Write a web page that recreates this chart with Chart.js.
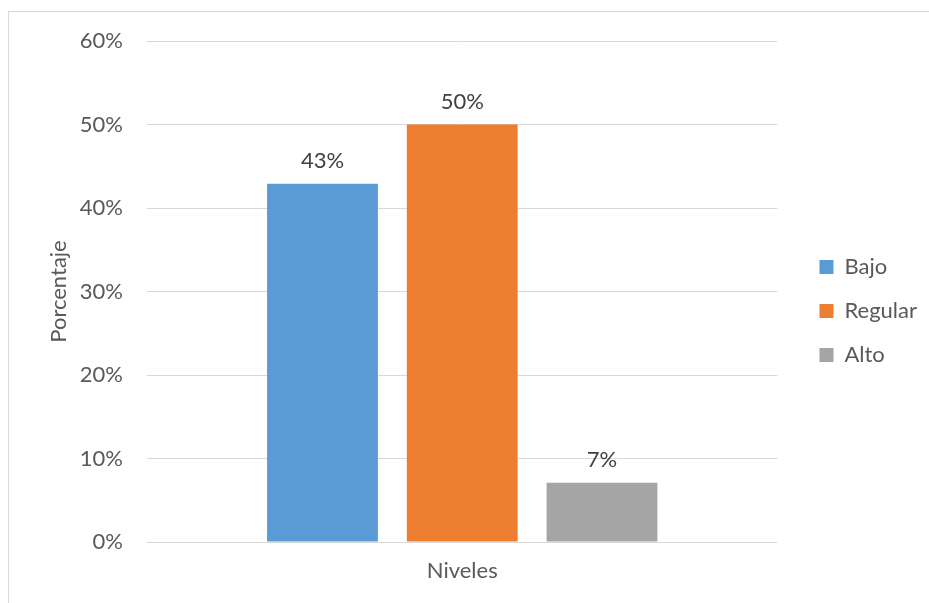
<!DOCTYPE html>
<html lang="es">
<head>
  <meta charset="UTF-8">
  <title>Niveles</title>
  <style>
    body {
      margin: 0;
      background: #fff;
      overflow: hidden;
    }
    #wrap {
      position: relative;
      width: 929px;
      height: 603px;
    }
    .frame {
      position: absolute;
      left: 8px;
      top: 11px;
      width: 1200px;
      height: 1200px;
      border: 1px solid #d9d9d9;
    }
    canvas {
      position: absolute;
      left: 0;
      top: 0;
    }
  </style>
</head>
<body>
  <div id="wrap">
    <div class="frame"></div>
    <canvas id="chart" width="929" height="603"></canvas>
  </div>

  <script src="https://cdn.jsdelivr.net/npm/chart.js"></script>
  <script>
    // data
    const categories = ['Niveles'];
    const seriesNames = ['Bajo', 'Regular', 'Alto'];
    const seriesValues = [42.9, 50, 7.1];
    const seriesColors = ['#5B9BD5', '#ED7D31', '#A5A5A5'];
    const yTicks = [0, 10, 20, 30, 40, 50, 60];

    const fontFamily = 'Lato, "Open Sans", sans-serif';
    const fontSize = 22;
    const textColor = '#595959';

    // labels above the bars
    const valueLabels = {
      id: 'valueLabels',
      afterDatasetsDraw(chart) {
        const ctx = chart.ctx;
        ctx.save();
        ctx.font = fontSize + 'px ' + fontFamily;
        ctx.fillStyle = '#404040';
        ctx.textAlign = 'center';
        ctx.textBaseline = 'bottom';
        chart.data.datasets.forEach((ds, i) => {
          const meta = chart.getDatasetMeta(i);
          meta.data.forEach((bar, j) => {
            ctx.fillText(Math.round(ds.data[j]) + '%', bar.x, bar.y - 12);
          });
        });
        ctx.restore();
      }
    };

    const ctx = document.getElementById('chart').getContext('2d');
    new Chart(ctx, {
      type: 'bar',
      data: {
        labels: categories,
        datasets: seriesNames.map((name, i) => ({
          label: name,
          data: [seriesValues[i]],
          backgroundColor: seriesColors[i],
          categoryPercentage: 0.665,
          barPercentage: 0.793
        }))
      },
      options: {
        responsive: false,
        animation: false,
        devicePixelRatio: 1,
        layout: { padding: { top: 41, bottom: 22, left: 0, right: 2 } },
        plugins: {
          tooltip: { enabled: false },
          legend: {
            position: 'right',
            labels: {
              boxWidth: 14,
              boxHeight: 14,
              padding: 22,
              color: textColor,
              font: { family: fontFamily, size: fontSize }
            }
          }
        },
        scales: {
          x: {
            grid: { display: false },
            border: { display: false },
            ticks: {
              padding: 8,
              color: textColor,
              font: { family: fontFamily, size: fontSize }
            },
            afterFit: (scale) => { scale.height = 39; }
          },
          y: {
            min: 0,
            max: 60,
            afterBuildTicks: (scale) => { scale.ticks = yTicks.map(v => ({ value: v })); },
            grid: { color: '#d9d9d9', lineWidth: 1, drawTicks: false },
            border: { display: false },
            ticks: {
              padding: 24,
              color: textColor,
              font: { family: fontFamily, size: fontSize },
              callback: (v) => v + '%'
            },
            title: {
              display: true,
              text: 'Porcentaje',
              color: textColor,
              font: { family: fontFamily, size: fontSize },
              padding: { top: 46, bottom: 0 }
            },
            afterFit: (scale) => { scale.width = 147; }
          },
          // empty gap between the plot and the legend
          gap: {
            position: 'right',
            display: true,
            grid: { display: false },
            border: { display: false },
            ticks: { display: false },
            afterFit: (scale) => { scale.width = 20; }
          }
        }
      },
      plugins: [valueLabels]
    });
  </script>
</body>
</html>
